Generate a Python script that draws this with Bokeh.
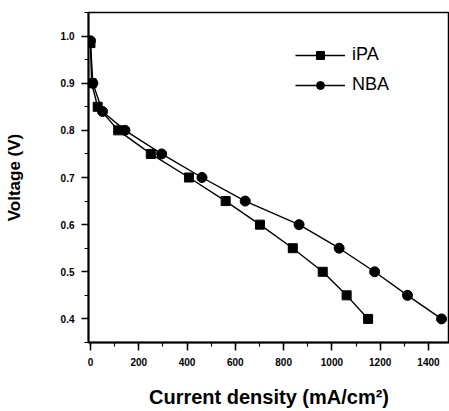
from bokeh.plotting import figure
from bokeh.models import SingleIntervalTicker, Range1d, NumeralTickFormatter, Legend
from bokeh.embed import file_html
from bokeh.resources import INLINE

# Data
ipa_x = [0, 5, 30, 115, 250, 408, 560, 702, 838, 962, 1061, 1150]
ipa_y = [0.985, 0.90, 0.85, 0.80, 0.75, 0.70, 0.65, 0.60, 0.55, 0.50, 0.45, 0.40]
nba_x = [0, 10, 50, 143, 295, 462, 641, 864, 1030, 1177, 1313, 1454]
nba_y = [0.99, 0.90, 0.84, 0.80, 0.75, 0.70, 0.65, 0.60, 0.55, 0.50, 0.45, 0.40]
series_names = ["iPA", "NBA"]
x_label = "Current density (mA/cm\u00b2)"
y_label = "Voltage (V)"

FONT = "Liberation Sans"

p = figure(width=449, height=411, output_backend="svg", toolbar_location=None,
           x_range=Range1d(-8, 1487), y_range=Range1d(0.35, 1.05),
           min_border_left=88, min_border_right=0, min_border_top=12, min_border_bottom=69)

p.background_fill_color = "white"
p.border_fill_color = "white"
p.outline_line_color = "black"
p.outline_line_width = 1.5
p.xgrid.visible = False
p.ygrid.visible = False

r1l = p.line(ipa_x, ipa_y, line_color="black", line_width=1.4)
r1m = p.scatter(ipa_x, ipa_y, marker="square", size=9, fill_color="black", line_color="black")
r2l = p.line(nba_x, nba_y, line_color="black", line_width=1.4)
r2m = p.scatter(nba_x, nba_y, marker="circle", size=10, fill_color="black", line_color="black")

legend = Legend(items=[(series_names[0], [r1l, r1m]), (series_names[1], [r2l, r2m])],
                location=(207, 247))
legend.glyph_width = 50
legend.glyph_height = 20
legend.label_height = 20
legend.spacing = 9
legend.padding = 0
legend.margin = 0
legend.label_standoff = 7
legend.border_line_alpha = 0
legend.background_fill_alpha = 0
legend.label_text_font = FONT
legend.label_text_font_size = "18px"
legend.label_text_color = "black"
p.add_layout(legend, "center")

for ax in (p.xaxis[0], p.yaxis[0]):
    ax.axis_line_width = 2
    ax.axis_line_color = "black"
    ax.major_tick_line_width = 1.5
    ax.minor_tick_line_width = 1.2
    ax.major_tick_in = 0
    ax.minor_tick_in = 0
    ax.major_tick_out = 7
    ax.minor_tick_out = 4
    ax.major_label_text_font = FONT
    ax.major_label_text_font_style = "bold"
    ax.major_label_text_font_size = "10px"
    ax.major_label_text_color = "black"
    ax.axis_label_text_font = FONT
    ax.axis_label_text_font_style = "bold"
    ax.axis_label_text_color = "black"

p.xaxis[0].ticker = SingleIntervalTicker(interval=200, num_minor_ticks=2)
p.yaxis[0].ticker = SingleIntervalTicker(interval=0.1, num_minor_ticks=2)
p.yaxis[0].formatter = NumeralTickFormatter(format="0.0")
p.xaxis[0].major_tick_out = 8
p.xaxis[0].major_label_standoff = 7
p.yaxis[0].major_label_standoff = 7
p.xaxis[0].axis_label = x_label
p.yaxis[0].axis_label = y_label
p.xaxis[0].axis_label_text_font_size = "20px"
p.yaxis[0].axis_label_text_font_size = "17px"
p.xaxis[0].axis_label_standoff = 17
p.yaxis[0].axis_label_standoff = 34

open("out.html", "w").write(file_html(p, INLINE))
